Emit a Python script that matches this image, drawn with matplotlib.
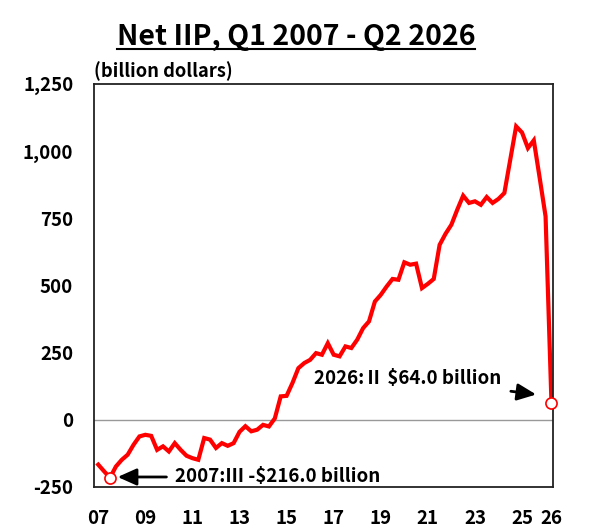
import matplotlib
matplotlib.use("Agg")
import matplotlib.pyplot as plt
from matplotlib.ticker import FuncFormatter

plt.rcParams['font.family'] = ['Noto Sans CJK KR', 'DejaVu Sans']
plt.rcParams['font.weight'] = 'bold'

# quarterly net IIP, Q1 2007 .. Q2 2026 (billion dollars)
net_iip = [
    -167, -192, -216, -174, -149, -130, -93, -62,
    -56, -60, -112, -99, -118, -87, -112, -134,
    -143, -149, -68, -74, -105, -87, -97, -87,
    -45, -24, -43, -37, -19, -25, 5, 87,
    89, 137, 192, 211, 223, 248, 242, 285,
    242, 236, 273, 267, 298, 341, 366, 440,
    465, 496, 524, 521, 586, 577, 581, 490,
    506, 524, 651, 692, 726, 782, 834, 807,
    813, 800, 829, 807, 822, 844, 968, 1092,
    1069, 1011, 1040, 900, 757, 64,
]
x_tick_pos = [0, 8, 16, 24, 32, 40, 48, 56, 64, 72, 77]
x_tick_labels = ["07", "09", "11", "13", "15", "17", "19", "21", "23", "25", "26"]
y_ticks = [-250, 0, 250, 500, 750, 1000, 1250]

min_idx = 2
last_idx = len(net_iip) - 1
min_label = "2007:Ⅲ -$216.0 billion"
last_label = "2026:Ⅱ $64.0 billion"

fig = plt.figure(figsize=(5.92, 5.31), dpi=100)
ax = fig.add_axes([0.159, 0.083, 0.775, 0.759])

x = list(range(len(net_iip)))
ax.axhline(0, color='#999999', linewidth=1.0, zorder=1)
ax.plot(x, net_iip, color='#ff0000', linewidth=3.0, solid_joinstyle='miter', zorder=2)
for i in (min_idx, last_idx):
    ax.plot(i, net_iip[i], 'o', markersize=8, markerfacecolor='white',
            markeredgecolor='#ff0000', markeredgewidth=1.2, zorder=3, clip_on=False)

ax.set_xlim(-0.7, 77.25)
ax.set_ylim(-250, 1250)
ax.set_xticks(x_tick_pos)
ax.set_xticklabels(x_tick_labels)
ax.set_yticks(y_ticks)
ax.yaxis.set_major_formatter(FuncFormatter(lambda v, p: f"{int(v):,}"))
ax.tick_params(length=0, labelsize=13.5, pad=15)
ax.tick_params(axis='x', pad=16)
for lab in ax.get_xticklabels() + ax.get_yticklabels():
    lab.set_fontweight('bold')
for s in ax.spines.values():
    s.set_linewidth(1.3)
    s.set_color('#222222')

# annotations
arrow_style = dict(arrowstyle='-|>,head_length=0.85,head_width=0.38',
                   color='black', lw=2.0, shrinkB=0)
ax.annotate(min_label, xy=(min_idx + 1.3, net_iip[min_idx] + 3),
            xytext=(13, net_iip[min_idx] + 3), fontsize=13.5, fontweight='bold',
            va='center', ha='left', arrowprops=dict(arrow_style, shrinkA=4))
ax.annotate(last_label, xy=(last_idx - 2.6, net_iip[last_idx] + 30),
            xytext=(68.5, 155), fontsize=13.5, fontweight='bold',
            va='center', ha='right', arrowprops=dict(arrow_style, shrinkA=5))

fig.text(0.158, 0.866, "(billion dollars)", fontsize=13.2, fontweight='bold',
         ha='left', va='center')
t = fig.text(0.5, 0.93, "Net IIP, Q1 2007 - Q2 2026", fontsize=20.5,
             fontweight='bold', ha='center', va='center')

fig.canvas.draw()
bb = t.get_window_extent().transformed(fig.transFigure.inverted())
fig.add_artist(plt.Line2D([bb.x0, bb.x1], [bb.y0 + 0.004, bb.y0 + 0.004],
                          transform=fig.transFigure, color='black', linewidth=1.5))

fig.savefig("out.png", dpi=100)
